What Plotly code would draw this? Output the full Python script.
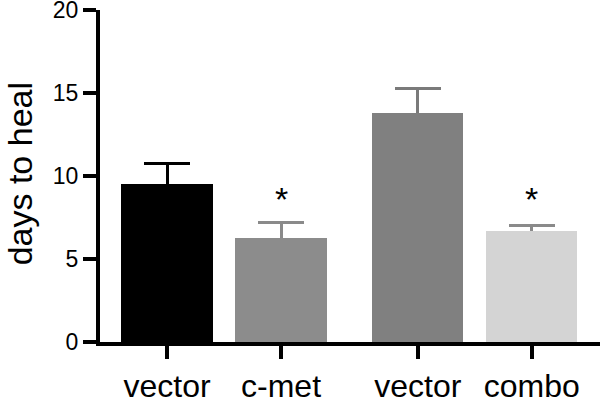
import plotly.graph_objects as go

# ---- data ----
categories = ["vector", "c-met", "vector", "combo"]
groups = [0, 0, 1, 1]
means = [9.52, 6.27, 13.8, 6.69]
sem = [1.26, 0.90, 1.50, 0.30]
significant = [False, True, False, True]
star_level = 9.0
y_ticks = [0, 5, 10, 15, 20]

# ---- styles ----
bar_colors = ["#000000", "#8c8c8c", "#808080", "#d4d4d4"]
err_colors = ["#000000", "#8a8a8a", "#7a7a7a", "#8a8a8a"]
FONT = "Liberation Sans, Arial, Helvetica, sans-serif"
GROUP_GAP = 0.2

x_pos = [i + g * GROUP_GAP for i, g in enumerate(groups)]

fig = go.Figure()

# error bars (drawn underneath the bars; stem runs down to 0 and is hidden by the bars)
for i in range(len(means)):
    fig.add_trace(go.Bar(
        x=[x_pos[i]], y=[means[i]], width=0.8,
        marker=dict(color=bar_colors[i], line=dict(width=0)),
        error_y=dict(type="data", symmetric=False, array=[sem[i]], arrayminus=[means[i]],
                     color=err_colors[i], thickness=3, width=23),
        showlegend=False, hoverinfo="skip",
    ))

# bars on top
fig.add_trace(go.Bar(
    x=x_pos, y=means, width=0.8,
    marker=dict(color=bar_colors, line=dict(width=0)),
    showlegend=False,
))

# significance stars
for i, s in enumerate(significant):
    if s:
        fig.add_annotation(x=x_pos[i], y=star_level, xref="x", yref="y", text="*",
                           showarrow=False, font=dict(family=FONT, size=34, color="black"),
                           yanchor="middle", yshift=-6)

# y-axis title
fig.add_annotation(x=-0.16, y=0.505, xref="paper", yref="paper", text="days to heal",
                   textangle=-90, showarrow=False,
                   font=dict(family=FONT, size=34, color="black"),
                   xanchor="center", yanchor="middle")

fig.update_layout(
    width=600, height=403,
    margin=dict(l=100, r=0, t=10, b=61, autoexpand=False),
    paper_bgcolor="white", plot_bgcolor="white",
    barmode="overlay", bargap=0,
    font=dict(family=FONT, color="black"),
    xaxis=dict(
        range=[-0.588, 3.798], automargin=False,
        tickmode="array", tickvals=x_pos, ticktext=categories,
        ticks="outside", ticklen=13, tickwidth=4, tickcolor="black",
        showline=True, linewidth=4, linecolor="black",
        showgrid=False, zeroline=False,
        tickfont=dict(family=FONT, size=32, color="black"),
        ticklabelstandoff=0, ticklabeloverflow="allow",
    ),
    yaxis=dict(
        range=[0, 20], tickmode="array", tickvals=y_ticks, automargin=False,
        ticks="outside", ticklen=13, tickwidth=4, tickcolor="black",
        showline=True, linewidth=4, linecolor="black",
        showgrid=False, zeroline=False,
        tickfont=dict(family=FONT, size=23, color="black"),
        ticklabeloverflow="allow",
    ),
)

fig.write_html("out.html", config={"displayModeBar": False},
               post_script="document.body.style.margin='0px';document.body.style.overflow='hidden';")
